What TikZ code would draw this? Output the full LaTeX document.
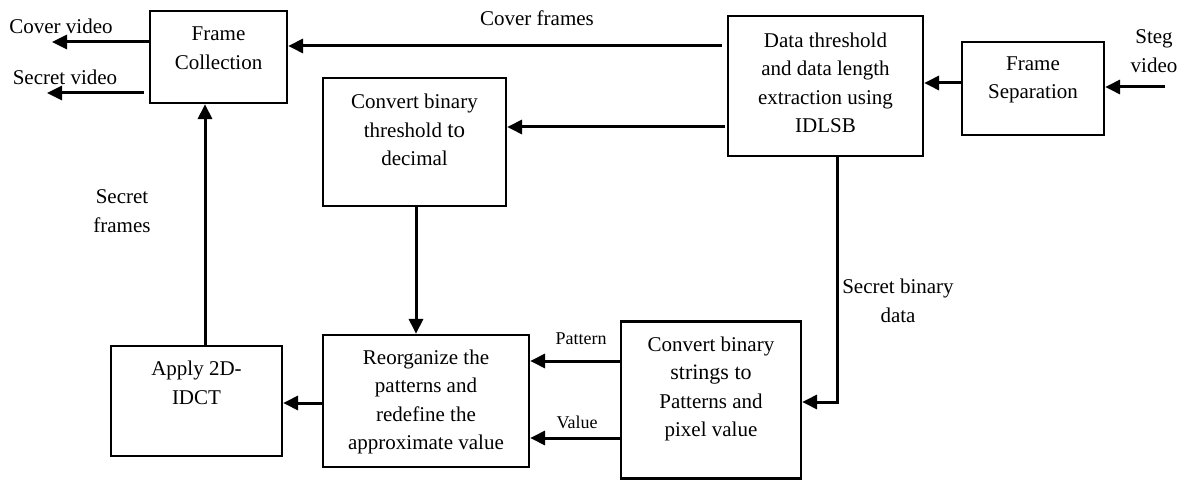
\documentclass[tikz,border=0pt]{standalone}
\usepackage{fontspec}
\setmainfont{Liberation Serif}
\usetikzlibrary{arrows.meta,calc}
\tikzset{
  blk/.style={draw=black, line width=2.2pt, inner sep=0pt, fill=none},
  txt/.style={align=center, inner sep=0pt, font=\fontsize{21}{28.5}\selectfont},
  smalltxt/.style={align=center, inner sep=0pt, font=\fontsize{18}{22}\selectfont},
  arr/.style={line width=3pt, -{Triangle[length=15pt,width=14pt]}},
  ln/.style={line width=3pt}
}
\begin{document}
\begin{tikzpicture}[x=1pt,y=-1pt]
\useasboundingbox (0,0) rectangle (1187,481);
% boxes
\node[blk, minimum width=137pt, minimum height=92pt] (fc) at (218.5,57) {};
\node[blk, minimum width=195pt, minimum height=140pt] (dt) at (825.5,86) {};
\node[blk, minimum width=142pt, minimum height=93pt] (fs) at (1033,88.5) {};
\node[blk, minimum width=183pt, minimum height=128pt] (ct) at (414.5,142) {};
\node[blk, minimum width=206pt, minimum height=132pt] (ro) at (426,401) {};
\node[blk, minimum width=171pt, minimum height=110pt] (ap) at (196.5,401) {};
\node[blk, minimum width=180pt, minimum height=157pt] (cs) at (711,400) {};
% box texts
\node[txt] (fct) at (218.5,48) {Frame\\Collection};
\node[txt] (dtt) at (825.5,83) {Data threshold\\and data length\\extraction using\\IDLSB};
\node[txt] (fst) at (1033,80) {Frame\\Separation};
\node[txt] (ctt) at (414.5,130) {Convert binary\\threshold {\fontsize{23}{28.5}\selectfont to}\\decimal};
\node[txt] (rot) at (426,402) {Reorganize the\\patterns and\\redefine the\\approximate value};
\node[txt] (apt) at (196.5,383) {Apply 2D-\\IDCT};
\node[txt] (cst) at (711,389) {Convert binary\\{\fontsize{22}{28.5}\selectfont strings to}\\Patterns and\\pixel value};
% helper coordinates
\coordinate (cvend) at (52,42);
\coordinate (svend) at (47,93);
\coordinate (stegstart) at (1165,87);
\coordinate (ycf) at (0,46);
\coordinate (yfs) at (0,83);
\coordinate (yct) at (0,127);
\coordinate (yro) at (0,403);
\coordinate (xsf) at (205,0);
\coordinate (xct) at (416,0);
\coordinate (xsb) at (837,0);
\coordinate (ysb) at (0,402);
\coordinate (ypat) at (0,361);
\coordinate (yval) at (0,438);
\coordinate (sbcorner) at (837,402);
% connectors
\draw[arr] (fc.west |- cvend) -- (cvend);
\draw[arr] ($(fc.west |- svend)+(-5,0)$) -- (svend);
\draw[arr] ($(dt.west |- ycf)+(-5,0)$) -- (fc.east |- ycf);
\draw[arr] (fs.west |- yfs) -- (dt.east |- yfs);
\draw[arr] (stegstart) -- (fs.east |- stegstart);
\draw[arr] ($(dt.west |- yct)+(-2,0)$) -- (ct.east |- yct);
\draw[arr] (ct.south -| xct) -- (ro.north -| xct);
\draw[arr] (ro.west |- yro) -- (ap.east |- yro);
\draw[arr] (ap.north -| xsf) -- (fc.south -| xsf);
\draw[ln] (dt.south -| xsb) -- (sbcorner);
\draw[arr] ($(sbcorner)+(1.5,0)$) -- (cs.east |- ysb);
\draw[arr] (cs.west |- ypat) -- (ro.east |- ypat);
\draw[arr] (cs.west |- yval) -- (ro.east |- yval);
% labels
\node[txt] (lcv) at (61,26) {Cover video};
\node[txt] (lsv) at (65,77) {Secret video};
\node[txt] (lcf) at (537,18) {Cover frames};
\node[txt] (lsf) at (122,211) {Secret\\frames};
\node[txt] (lsteg) at (1154,51) {Steg\\video};
\node[txt] (lsb) at (898,301) {Secret binary\\data};
\node[smalltxt] (lpat) at (581,339) {Pattern};
\node[smalltxt] (lval) at (577,422) {Value};
\end{tikzpicture}
\end{document}
